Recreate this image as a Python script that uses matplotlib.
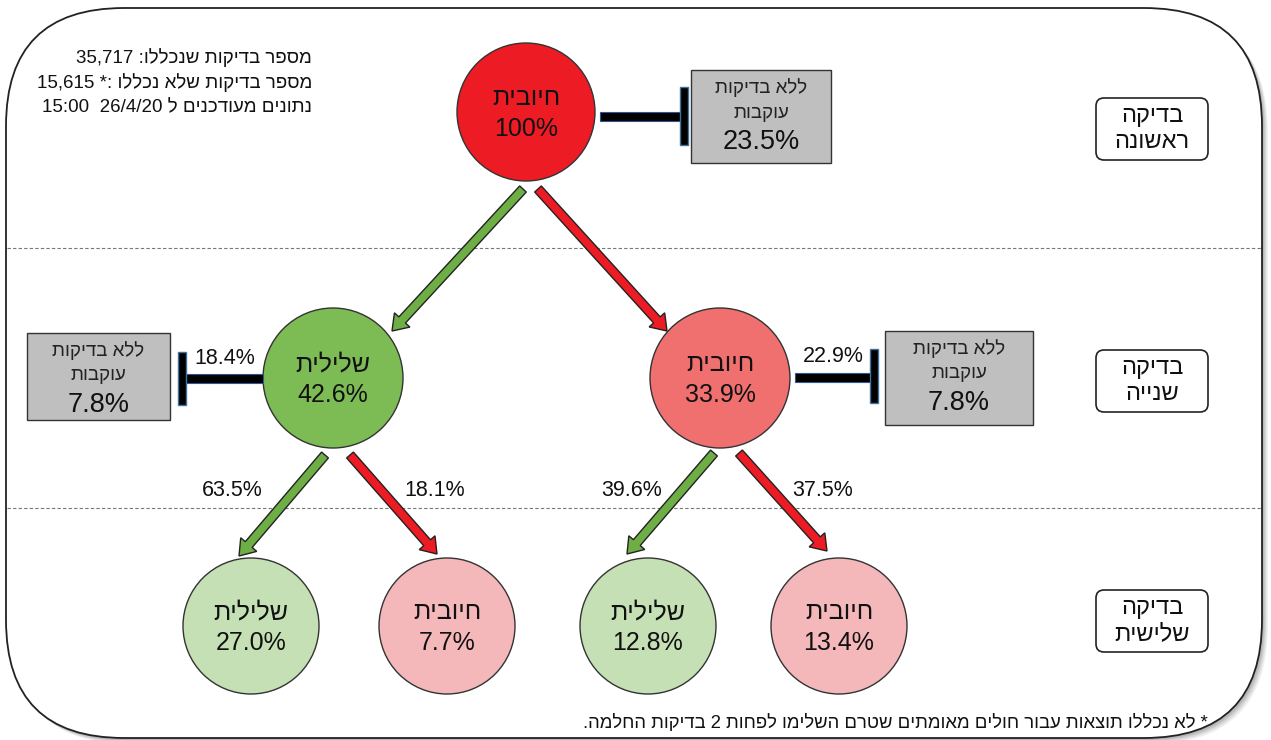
import re
import matplotlib
matplotlib.use("Agg")
import matplotlib.pyplot as plt
from matplotlib.patches import FancyBboxPatch, Circle, Rectangle, FancyArrow

plt.rcParams['font.family'] = ['Liberation Sans', 'DejaVu Sans']

# ---------------- data ----------------
level_labels = ['בדיקה\nראשונה', 'בדיקה\nשנייה', 'בדיקה\nשלישית']
node_names = ['חיובית', 'שלילית', 'חיובית', 'שלילית', 'חיובית', 'שלילית', 'חיובית']
node_values = [100, 42.6, 33.9, 27.0, 7.7, 12.8, 13.4]
branch_pct = [63.5, 18.1, 39.6, 37.5]
no_followup_label = 'ללא בדיקות\nעוקבות'
no_followup_values = [23.5, 7.8, 7.8]
drop_pct = [18.4, 22.9]
info_lines = ['מספר בדיקות שנכללו: 35,717',
              'מספר בדיקות שלא נכללו :* 15,615',
              'נתונים מעודכנים ל 26/4/20  15:00']
footnote = '* לא נכללו תוצאות עבור חולים מאומתים שטרם השלימו לפחות 2 בדיקות החלמה.'


def vis(s):
    """Logical Hebrew -> visual order (LTR runs of digits kept)."""
    out = []
    for line in s.split('\n'):
        r = line[::-1]
        r = re.sub(r'[0-9][0-9.,/:%]*[0-9%]|[0-9]', lambda m: m.group(0)[::-1], r)
        out.append(r)
    return '\n'.join(out)


def fmt(v):
    return f'{v:g}%' if v == 100 else f'{v:.1f}%'


# ---------------- figure ----------------
W, H = 1271, 740
fig = plt.figure(figsize=(W / 100, H / 100), dpi=100)
ax = fig.add_axes([0, 0, 1, 1])
ax.set_xlim(0, W)
ax.set_ylim(H, 0)
ax.axis('off')

# frame with shadow
for i, a in enumerate([0.05, 0.05, 0.06, 0.07, 0.08]):
    off = 6 - i
    ax.add_patch(FancyBboxPatch((6 + off, 8 + off), 1256, 730,
                                boxstyle='round,pad=0,rounding_size=118',
                                fc='#000000', ec='none', alpha=a, zorder=0))
ax.add_patch(FancyBboxPatch((6, 8), 1256, 730,
                            boxstyle='round,pad=0,rounding_size=118',
                            fc='white', ec='#222222', lw=1.3, zorder=1))

# dashed separators
for y in [248, 508]:
    ax.plot([7, 1261], [y, y], ls=(0, (3, 2)), color='#777777', lw=0.8, zorder=2)

# nodes
node_pos = [(526, 112), (333, 378), (720, 378),
            (251, 626), (447, 626), (648, 626), (839, 626)]
node_r = [69, 70, 70, 68, 68, 68, 68]
node_colors = ['#ED1C24', '#7DBB55', '#F07070',
               '#C5E0B4', '#F4B8BB', '#C5E0B4', '#F4B8BB']
for (x, y), r, c, name, v in zip(node_pos, node_r, node_colors, node_names, node_values):
    ax.add_patch(Circle((x, y), r, fc=c, ec='#333333', lw=1.0, zorder=3))
    ax.text(x, y - 14, vis(name), ha='center', va='center', fontsize=18, zorder=4, color='#111111')
    ax.text(x, y + 17, fmt(v), ha='center', va='center', fontsize=18, zorder=4, color='#111111')

# arrows
GREEN, RED = '#6DAE45', '#ED1C24'
arrows = [((523, 189), (392, 331), GREEN), ((538, 189), (667, 331), RED),
          ((325, 455), (239, 556), GREEN), ((350, 455), (437, 554), RED),
          ((714, 453), (627, 554), GREEN), ((739, 453), (827, 551), RED)]
for (x0, y0), (x1, y1), c in arrows:
    ax.add_patch(FancyArrow(x0, y0, x1 - x0, y1 - y0, width=9, head_width=21,
                            head_length=15, length_includes_head=True,
                            fc=c, ec='#222222', lw=1.0, zorder=3))

# branch percentages
branch_xy = [(232, 490), (435, 490), (632, 490), (823, 490)]
for (x, y), p in zip(branch_xy, branch_pct):
    ax.text(x, y, f'{p:.1f}%', ha='center', va='center', fontsize=15.5, color='#111111', zorder=4)

# T-bars (stop)
tbars = [(600, 683, 116, 684, 87, 145),
         (263, 183, 378, 182, 352, 405),
         (795, 873, 377, 874, 349, 403)]
for xa, xb, y, xv, ya, yb in tbars:
    ax.add_patch(Rectangle((min(xa, xb), y - 4.5), abs(xb - xa), 9,
                           fc='black', ec='#2F5597', lw=0.8, zorder=3))
    ax.add_patch(Rectangle((xv - 4, ya), 8, yb - ya, fc='black', ec='#41719C', lw=1.0, zorder=3))

drop_xy = [(225, 358), (833, 357)]
for (x, y), p in zip(drop_xy, drop_pct):
    ax.text(x, y, f'{p:.1f}%', ha='center', va='center', fontsize=15.5, color='#111111', zorder=4)

# gray boxes
gboxes = [(691, 70, 140, 93), (27, 333, 143, 87), (885, 331, 148, 94)]
for (x, y, w, h), v in zip(gboxes, no_followup_values):
    ax.add_patch(Rectangle((x, y), w, h, fc='#BFBFBF', ec='#333333', lw=1.0, zorder=3))
    cx = x + w / 2
    l1, l2 = vis(no_followup_label).split('\n')
    ax.text(cx, y + 18, l1, ha='center', va='center', fontsize=13.5, color='#222222', zorder=4)
    ax.text(cx, y + 43, l2, ha='center', va='center', fontsize=13.5, color='#222222', zorder=4)
    ax.text(cx, y + 72, f'{v:.1f}%', ha='center', va='center', fontsize=19.5, color='#111111', zorder=4)

# level labels
level_y = [98, 350, 590]
for y, lab in zip(level_y, level_labels):
    ax.add_patch(FancyBboxPatch((1096, y), 112, 62, boxstyle='round,pad=0,rounding_size=8',
                                fc='white', ec='#222222', lw=1.2, zorder=3))
    l1, l2 = vis(lab).split('\n')
    ax.text(1152, y + 18, l1, ha='center', va='center', fontsize=17, color='#111111', zorder=4)
    ax.text(1152, y + 44, l2, ha='center', va='center', fontsize=17, color='#111111', zorder=4)

# info text
for i, line in enumerate(info_lines):
    ax.text(312, 58 + 25 * i, vis(line), ha='right', va='center', fontsize=13.5,
            color='#111111', zorder=4)

ax.text(1208, 723, vis(footnote), ha='right', va='center', fontsize=13.3, color='#111111', zorder=4)

fig.savefig('out.png', dpi=100)
